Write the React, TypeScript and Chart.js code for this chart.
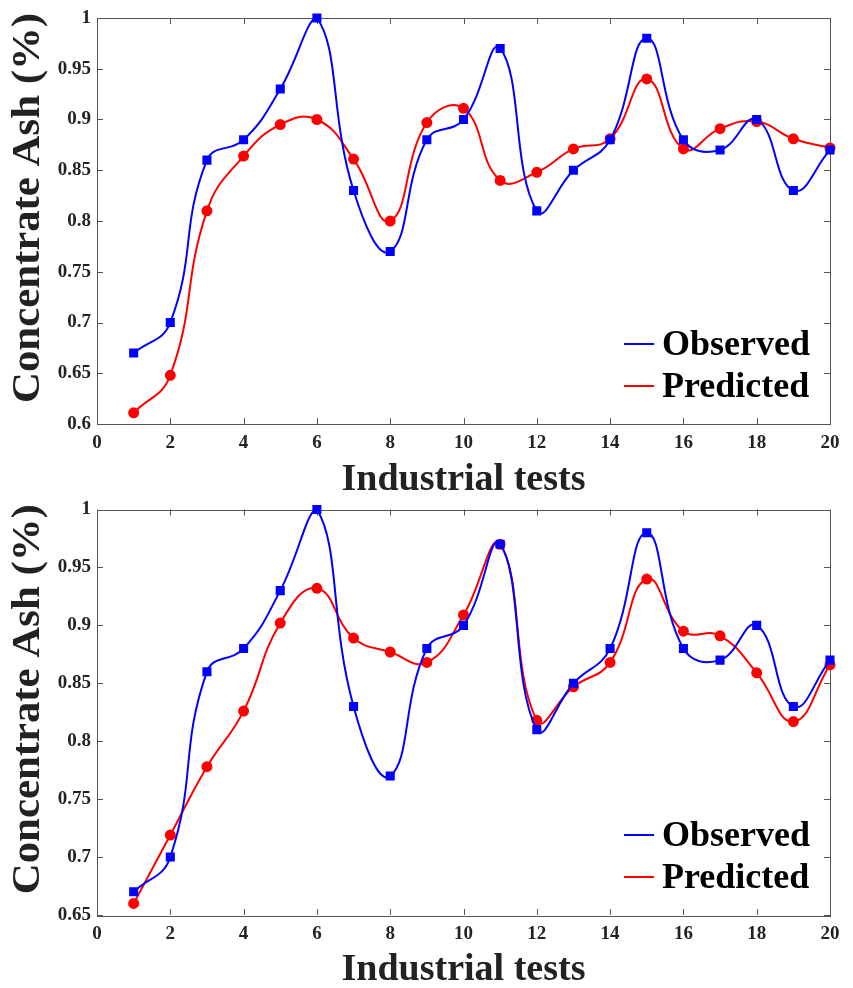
import React, { useEffect, useRef } from "react";
import { Chart, registerables } from "chart.js";

Chart.register(...registerables);

// ---- data ----
const tests = [1, 2, 3, 4, 5, 6, 7, 8, 9, 10, 11, 12, 13, 14, 15, 16, 17, 18, 19, 20];
const observed = [0.67, 0.70, 0.86, 0.88, 0.93, 1.0, 0.83, 0.77, 0.88, 0.90, 0.97, 0.81, 0.85, 0.88, 0.98, 0.88, 0.87, 0.90, 0.83, 0.87];
const predictedTop = [0.611, 0.648, 0.81, 0.864, 0.895, 0.90, 0.861, 0.80, 0.897, 0.911, 0.84, 0.848, 0.871, 0.881, 0.94, 0.871, 0.891, 0.898, 0.881, 0.872];
const predictedBottom = [0.66, 0.719, 0.778, 0.826, 0.902, 0.932, 0.889, 0.877, 0.868, 0.909, 0.97, 0.818, 0.847, 0.868, 0.94, 0.895, 0.891, 0.859, 0.817, 0.866];
const xTickValues = [0, 2, 4, 6, 8, 10, 12, 14, 16, 18, 20];
const xTickLabels = ["0", "2", "4", "6", "8", "10", "12", "14", "16", "18", "20"];
const yTickValuesTop = [0.6, 0.65, 0.7, 0.75, 0.8, 0.85, 0.9, 0.95, 1];
const yTickLabelsTop = ["0.6", "0.65", "0.7", "0.75", "0.8", "0.85", "0.9", "0.95", "1"];
const yTickValuesBottom = [0.65, 0.7, 0.75, 0.8, 0.85, 0.9, 0.95, 1];
const yTickLabelsBottom = ["0.65", "0.7", "0.75", "0.8", "0.85", "0.9", "0.95", "1"];
const seriesLabels = ["Observed", "Predicted"];
const xTitle = "Industrial tests";
const yTitle = "Concentrate Ash (%)";

const FONT = "'Liberation Serif', 'Times New Roman', serif";

const boxPlugin = {
  id: "boxTicks",
  beforeDatasetsDraw(chart: any) {
    const { ctx, chartArea } = chart;
    const { left, right, top, bottom } = chartArea;
    const xs = chart.scales.x;
    const ys = chart.scales.y;
    const tl = 6;
    ctx.save();
    ctx.strokeStyle = "#555";
    ctx.lineWidth = 1;
    ctx.beginPath();
    xs.ticks.forEach((t: any) => {
      const px = Math.round(xs.getPixelForValue(t.value)) + 0.5;
      ctx.moveTo(px, bottom);
      ctx.lineTo(px, bottom - tl);
      ctx.moveTo(px, top);
      ctx.lineTo(px, top + tl);
    });
    ys.ticks.forEach((t: any) => {
      const py = Math.round(ys.getPixelForValue(t.value)) + 0.5;
      ctx.moveTo(left, py);
      ctx.lineTo(left + tl, py);
      ctx.moveTo(right, py);
      ctx.lineTo(right - tl, py);
    });
    ctx.stroke();
    ctx.strokeRect(Math.round(left) + 0.5, Math.round(top) + 0.5, Math.round(right - left), Math.round(bottom - top));
    ctx.restore();
  },
  afterDatasetsDraw(chart: any) {
    const { ctx, chartArea } = chart;
    const { right, bottom, top } = chartArea;
    ctx.save();
    // legend inside the plot
    const colors = ["#0000ff", "#ff0000"];
    seriesLabels.forEach((lab, i) => {
      const y = bottom - 80 + i * 42;
      ctx.strokeStyle = colors[i];
      ctx.lineWidth = 2;
      ctx.beginPath();
      ctx.moveTo(right - 206, y);
      ctx.lineTo(right - 176, y);
      ctx.stroke();
      ctx.fillStyle = "#000";
      ctx.font = `bold 36px ${FONT}`;
      ctx.textBaseline = "middle";
      ctx.textAlign = "left";
      ctx.fillText(lab, right - 168, y + 2);
    });
    // y-axis title
    ctx.translate(29, (top + bottom) / 2 - 13);
    ctx.rotate(-Math.PI / 2);
    ctx.scale(1.07, 1);
    ctx.font = `bold 40px ${FONT}`;
    ctx.fillStyle = "#222";
    ctx.textAlign = "center";
    ctx.textBaseline = "middle";
    ctx.fillText(yTitle, 0, 0);
    ctx.restore();
  },
};

function makeConfig(predicted: number[], yTicks: number[], yLabels: string[], padTop: number, xAxisH: number, titleLH: number) {
  return {
    type: "line" as const,
    data: {
      datasets: [
        {
          label: seriesLabels[0],
          data: tests.map((t, i) => ({ x: t, y: observed[i] })),
          borderColor: "#0000ff",
          backgroundColor: "#0000ff",
          pointBackgroundColor: "#0000ff",
          pointBorderColor: "#0000ff",
          pointStyle: "rect",
          pointRadius: 5,
          borderWidth: 2,
          tension: 0.45,
          clip: false,
        },
        {
          label: seriesLabels[1],
          data: tests.map((t, i) => ({ x: t, y: predicted[i] })),
          borderColor: "#ff0000",
          backgroundColor: "#ff0000",
          pointBackgroundColor: "#ff0000",
          pointBorderColor: "#ff0000",
          pointStyle: "circle",
          pointRadius: 4.5,
          borderWidth: 2,
          tension: 0.45,
          clip: false,
        },
      ],
    },
    options: {
      responsive: false,
      animation: false as const,
      events: [],
      layout: { padding: { top: padTop, right: 23, left: 0, bottom: 0 } },
      plugins: { legend: { display: false }, tooltip: { enabled: false } },
      scales: {
        x: {
          type: "linear" as const,
          min: 0,
          max: 20,
          grid: { display: false, drawTicks: false },
          border: { display: false },
          afterBuildTicks: (s: any) => {
            s.ticks = xTickValues.map((v) => ({ value: v }));
          },
          afterFit: (s: any) => {
            s.height = xAxisH;
          },
          ticks: {
            padding: 10,
            color: "#222",
            font: { family: FONT, size: 19, weight: "bold" as const, lineHeight: 1 },
            maxRotation: 0,
            callback: (_v: any, i: number) => xTickLabels[i],
          },
          title: {
            display: true,
            text: xTitle,
            color: "#222",
            font: { family: FONT, size: 38, weight: "bold" as const, lineHeight: titleLH },
            padding: { top: 0, bottom: 1 },
          },
        },
        y: {
          type: "linear" as const,
          min: yTicks[0],
          max: yTicks[yTicks.length - 1],
          grid: { display: false, drawTicks: false },
          border: { display: false },
          afterBuildTicks: (s: any) => {
            s.ticks = yTicks.map((v) => ({ value: v }));
          },
          afterFit: (s: any) => {
            s.width = 97;
          },
          ticks: {
            padding: 6,
            color: "#222",
            font: { family: FONT, size: 19, weight: "bold" as const, lineHeight: 1 },
            callback: (_v: any, i: number) => yLabels[i],
          },
        },
      },
    },
    plugins: [boxPlugin],
  };
}

function LineChart(props: { predicted: number[]; yTicks: number[]; yLabels: string[]; padTop: number; xAxisH: number; titleLH: number }) {
  const ref = useRef<HTMLCanvasElement | null>(null);
  useEffect(() => {
    if (!ref.current) return;
    const chart = new Chart(
      ref.current,
      makeConfig(props.predicted, props.yTicks, props.yLabels, props.padTop, props.xAxisH, props.titleLH) as any
    );
    return () => chart.destroy();
  }, []);
  return <canvas ref={ref} width={853} height={494} style={{ display: "block", width: 853, height: 494 }} />;
}

export default function App() {
  return (
    <div style={{ position: "absolute", left: 0, top: 0, width: 853, height: 988, background: "#fff" }}>
      <LineChart predicted={predictedTop} yTicks={yTickValuesTop} yLabels={yTickLabelsTop} padTop={18} xAxisH={70} titleLH={0.7} />
      <LineChart predicted={predictedBottom} yTicks={yTickValuesBottom} yLabels={yTickLabelsBottom} padTop={11} xAxisH={73} titleLH={0.9} />
    </div>
  );
}
